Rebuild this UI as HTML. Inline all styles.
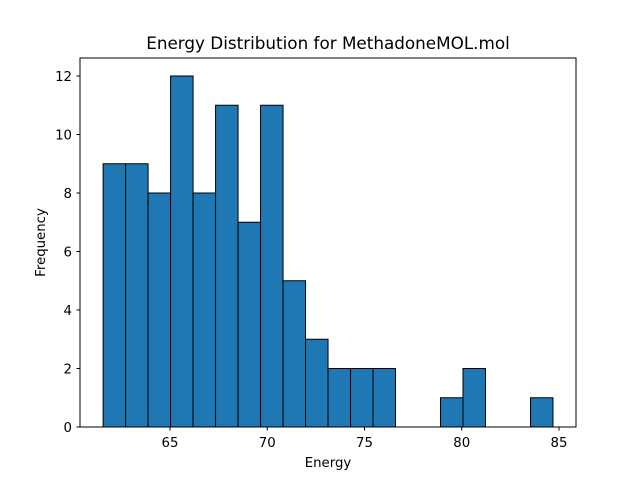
<!DOCTYPE html>
<html><head><meta charset="utf-8"><style>
body{margin:0;background:#fff}
text{font-family:"DejaVu Sans","Liberation Sans",sans-serif;fill:#000}
</style></head><body>
<svg id="chart" width="640" height="480" viewBox="0 0 640 480" xmlns="http://www.w3.org/2000/svg">
<rect width="640" height="480" fill="#fff"/>
<text x="328" y="49" font-size="16.8" text-anchor="middle">Energy Distribution for MethadoneMOL.mol</text>
<g id="bars"></g>
<g id="xt"></g><g id="yt"></g>
<rect x="80" y="58" width="496" height="369" fill="none" stroke="#000" stroke-width="1"/>
<text x="328" y="467" font-size="13.3" text-anchor="middle">Energy</text>
<text transform="translate(45,242.5) rotate(-90)" font-size="13.3" text-anchor="middle">Frequency</text>
</svg>
<script>
const counts=[9,9,8,12,8,11,7,11,5,3,2,2,2,0,0,1,2,0,0,1];
const binStart=61.56, binEnd=84.69;
const xTicks=[65,70,75,80,85];
const yTicks=[0,2,4,6,8,10,12];
const NS="http://www.w3.org/2000/svg";
const xs=v=>170+(v-65)*19.45;
const ys=v=>427-v*29.25;
const bars=document.getElementById('bars');
const w=(binEnd-binStart)/counts.length;
counts.forEach((c,i)=>{
 if(c===0)return;
 const r=document.createElementNS(NS,'rect');
 const x0=xs(binStart+i*w),x1=xs(binStart+(i+1)*w);
 r.setAttribute('x',x0);r.setAttribute('width',x1-x0);
 r.setAttribute('y',ys(c));r.setAttribute('height',ys(0)-ys(c));
 r.setAttribute('fill','#1f77b4');r.setAttribute('stroke','#000');r.setAttribute('stroke-width','1');
 
 
 bars.appendChild(r);
});
const xt=document.getElementById('xt');
xTicks.forEach(t=>{
 const x=xs(t);
 const l=document.createElementNS(NS,'line');
 l.setAttribute('x1',x);l.setAttribute('x2',x);l.setAttribute('y1',427);l.setAttribute('y2',430.5);l.setAttribute('stroke','#000');
 
 
 xt.appendChild(l);
 const tx=document.createElementNS(NS,'text');
 tx.setAttribute('x',x);tx.setAttribute('y',447);tx.setAttribute('font-size','13.3');tx.setAttribute('text-anchor','middle');
 tx.textContent=t;
 
 
 xt.appendChild(tx);
});
const yt=document.getElementById('yt');
yTicks.forEach(t=>{
 const y=ys(t);
 const l=document.createElementNS(NS,'line');
 l.setAttribute('x1',76.5);l.setAttribute('x2',80);l.setAttribute('y1',y);l.setAttribute('y2',y);l.setAttribute('stroke','#000');
 
 
 yt.appendChild(l);
 const tx=document.createElementNS(NS,'text');
 tx.setAttribute('x',72);tx.setAttribute('y',y+5);tx.setAttribute('font-size','13.3');tx.setAttribute('text-anchor','end');
 tx.textContent=t;
 
 
 yt.appendChild(tx);
});
</script>
</body></html>
